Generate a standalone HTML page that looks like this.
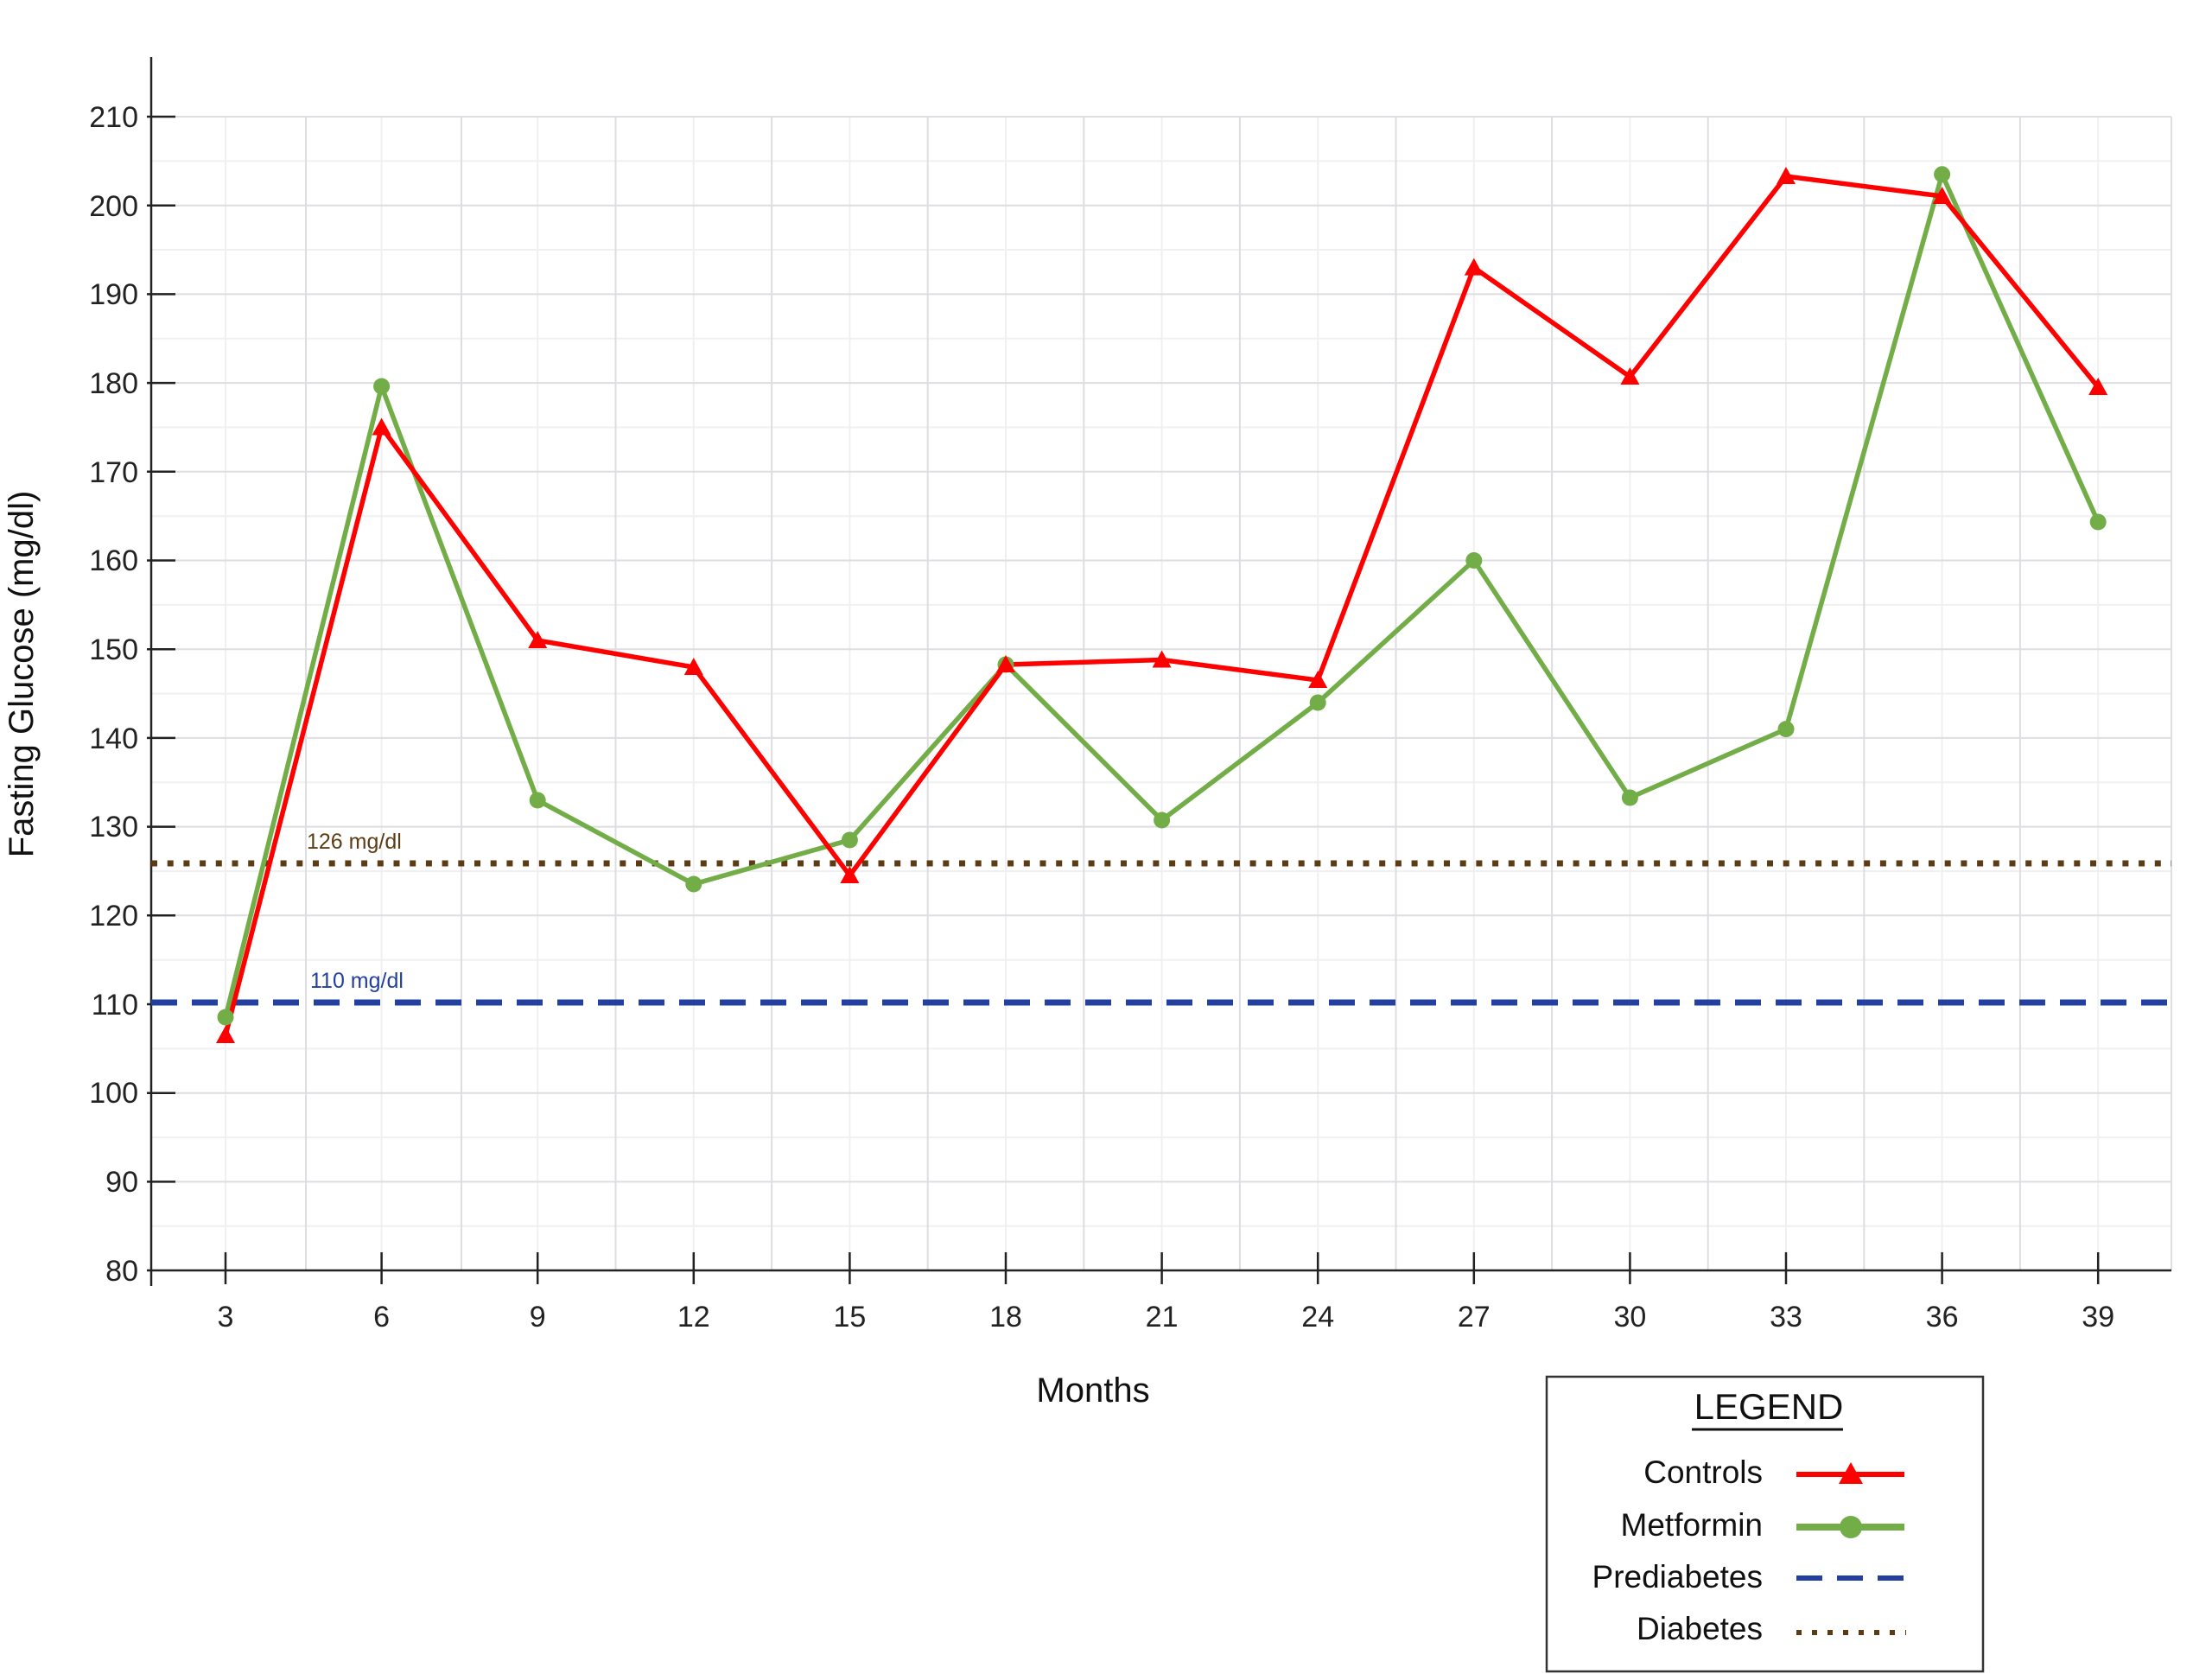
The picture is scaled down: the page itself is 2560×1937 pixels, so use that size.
<!DOCTYPE html>
<html><head><meta charset="utf-8"><style>
html,body{margin:0;padding:0;background:#fff}
svg{display:block}
text{font-family:"Liberation Sans",sans-serif}
</style></head><body>
<svg width="2560" height="1937" viewBox="0 0 2560 1937" xmlns="http://www.w3.org/2000/svg">
<rect width="2560" height="1937" fill="#fff"/>
<g stroke="#f0f0f2" stroke-width="2">
<line x1="175" y1="186.4" x2="2513" y2="186.4"/><line x1="175" y1="289" x2="2513" y2="289"/>
<line x1="175" y1="391.8" x2="2513" y2="391.8"/><line x1="175" y1="494.5" x2="2513" y2="494.5"/>
<line x1="175" y1="597.2" x2="2513" y2="597.2"/><line x1="175" y1="699.9" x2="2513" y2="699.9"/>
<line x1="175" y1="802.6" x2="2513" y2="802.6"/><line x1="175" y1="905.3" x2="2513" y2="905.3"/>
<line x1="175" y1="1008" x2="2513" y2="1008"/><line x1="175" y1="1110.7" x2="2513" y2="1110.7"/>
<line x1="175" y1="1213.4" x2="2513" y2="1213.4"/><line x1="175" y1="1316.1" x2="2513" y2="1316.1"/>
<line x1="175" y1="1418.8" x2="2513" y2="1418.8"/>
<line x1="261" y1="135" x2="261" y2="1470"/><line x1="441.6" y1="135" x2="441.6" y2="1470"/>
<line x1="622.2" y1="135" x2="622.2" y2="1470"/><line x1="802.8" y1="135" x2="802.8" y2="1470"/>
<line x1="983.4" y1="135" x2="983.4" y2="1470"/><line x1="1164" y1="135" x2="1164" y2="1470"/>
<line x1="1344.6" y1="135" x2="1344.6" y2="1470"/><line x1="1525.2" y1="135" x2="1525.2" y2="1470"/>
<line x1="1705.8" y1="135" x2="1705.8" y2="1470"/><line x1="1886.4" y1="135" x2="1886.4" y2="1470"/>
<line x1="2067" y1="135" x2="2067" y2="1470"/><line x1="2247.6" y1="135" x2="2247.6" y2="1470"/>
<line x1="2428.2" y1="135" x2="2428.2" y2="1470"/>
</g>
<g stroke="#dedee2" stroke-width="2">
<line x1="175" y1="135" x2="2513" y2="135"/><line x1="175" y1="237.7" x2="2513" y2="237.7"/>
<line x1="175" y1="340.4" x2="2513" y2="340.4"/><line x1="175" y1="443.1" x2="2513" y2="443.1"/>
<line x1="175" y1="545.8" x2="2513" y2="545.8"/><line x1="175" y1="648.5" x2="2513" y2="648.5"/>
<line x1="175" y1="751.2" x2="2513" y2="751.2"/><line x1="175" y1="853.9" x2="2513" y2="853.9"/>
<line x1="175" y1="956.6" x2="2513" y2="956.6"/><line x1="175" y1="1059.3" x2="2513" y2="1059.3"/>
<line x1="175" y1="1264.7" x2="2513" y2="1264.7"/><line x1="175" y1="1367.4" x2="2513" y2="1367.4"/>
<line x1="354" y1="135" x2="354" y2="1470"/><line x1="534" y1="135" x2="534" y2="1470"/>
<line x1="712.5" y1="135" x2="712.5" y2="1470"/><line x1="893.1" y1="135" x2="893.1" y2="1470"/>
<line x1="1073.7" y1="135" x2="1073.7" y2="1470"/><line x1="1254.3" y1="135" x2="1254.3" y2="1470"/>
<line x1="1434.9" y1="135" x2="1434.9" y2="1470"/><line x1="1615.5" y1="135" x2="1615.5" y2="1470"/>
<line x1="1796.1" y1="135" x2="1796.1" y2="1470"/><line x1="1976.7" y1="135" x2="1976.7" y2="1470"/>
<line x1="2157.3" y1="135" x2="2157.3" y2="1470"/><line x1="2337.9" y1="135" x2="2337.9" y2="1470"/>
<line x1="2513" y1="135" x2="2513" y2="1470"/>
</g>
<g stroke="#222" stroke-width="2.5">
<line x1="175" y1="66" x2="175" y2="1488"/>
<line x1="170" y1="1470" x2="2513" y2="1470"/>
<line x1="170" y1="135" x2="203" y2="135"/><line x1="170" y1="237.7" x2="203" y2="237.7"/>
<line x1="170" y1="340.4" x2="203" y2="340.4"/><line x1="170" y1="443.1" x2="203" y2="443.1"/>
<line x1="170" y1="545.8" x2="203" y2="545.8"/><line x1="170" y1="648.5" x2="203" y2="648.5"/>
<line x1="170" y1="751.2" x2="203" y2="751.2"/><line x1="170" y1="853.9" x2="203" y2="853.9"/>
<line x1="170" y1="956.6" x2="203" y2="956.6"/><line x1="170" y1="1059.3" x2="203" y2="1059.3"/>
<line x1="170" y1="1162" x2="203" y2="1162"/><line x1="170" y1="1264.7" x2="203" y2="1264.7"/>
<line x1="170" y1="1367.4" x2="203" y2="1367.4"/>
<line x1="261" y1="1449" x2="261" y2="1486"/><line x1="441.6" y1="1449" x2="441.6" y2="1486"/>
<line x1="622.2" y1="1449" x2="622.2" y2="1486"/><line x1="802.8" y1="1449" x2="802.8" y2="1486"/>
<line x1="983.4" y1="1449" x2="983.4" y2="1486"/><line x1="1164" y1="1449" x2="1164" y2="1486"/>
<line x1="1344.6" y1="1449" x2="1344.6" y2="1486"/><line x1="1525.2" y1="1449" x2="1525.2" y2="1486"/>
<line x1="1705.8" y1="1449" x2="1705.8" y2="1486"/><line x1="1886.4" y1="1449" x2="1886.4" y2="1486"/>
<line x1="2067" y1="1449" x2="2067" y2="1486"/><line x1="2247.6" y1="1449" x2="2247.6" y2="1486"/>
<line x1="2428.2" y1="1449" x2="2428.2" y2="1486"/>
</g>
<g font-size="34" fill="#222" text-anchor="end">
<text x="160" y="147">210</text><text x="160" y="250">200</text><text x="160" y="352">190</text>
<text x="160" y="455">180</text><text x="160" y="558">170</text><text x="160" y="660">160</text>
<text x="160" y="763">150</text><text x="160" y="866">140</text><text x="160" y="968">130</text>
<text x="160" y="1071">120</text><text x="160" y="1174">110</text><text x="160" y="1276">100</text>
<text x="160" y="1379">90</text><text x="160" y="1482">80</text>
</g>
<g font-size="34" fill="#222" text-anchor="middle">
<text x="261" y="1535">3</text><text x="441.6" y="1535">6</text><text x="622.2" y="1535">9</text>
<text x="802.8" y="1535">12</text><text x="983.4" y="1535">15</text><text x="1164" y="1535">18</text>
<text x="1344.6" y="1535">21</text><text x="1525.2" y="1535">24</text><text x="1705.8" y="1535">27</text>
<text x="1886.4" y="1535">30</text><text x="2067" y="1535">33</text><text x="2247.6" y="1535">36</text>
<text x="2428.2" y="1535">39</text>
</g>
<text x="1265" y="1622" font-size="40" fill="#111" text-anchor="middle">Months</text>
<text transform="translate(38,780) rotate(-90)" font-size="40" fill="#111" text-anchor="middle">Fasting Glucose (mg/dl)</text>
<line x1="175" y1="999" x2="2513" y2="999" stroke="#5c3c15" stroke-width="7" stroke-dasharray="7 11.7"/>
<line x1="175" y1="1160" x2="2513" y2="1160" stroke="#2340a0" stroke-width="7" stroke-dasharray="30 17"/>
<text x="355" y="982" font-size="25" fill="#5c3c15">126 mg/dl</text>
<text x="359" y="1143" font-size="25" fill="#2340a0">110 mg/dl</text>
<polyline fill="none" stroke="#72ad47" stroke-width="5.5" stroke-linejoin="round" points="261,1177 441.6,447 622.2,926 802.8,1023 983.4,972 1164,769 1344.6,949 1525.2,813 1705.8,648.5 1886.4,923 2067,843.6 2247.6,201.8 2428.2,604"/>
<polyline fill="none" stroke="#ff0000" stroke-width="5.5" stroke-linejoin="round" points="261,1198 441.6,494.5 622.2,741 802.8,772 983.4,1013 1164,769 1344.6,763.5 1525.2,787 1705.8,309.6 1886.4,436 2067,204 2247.6,227 2428.2,448"/>
<g fill="#72ad47">
<circle cx="261" cy="1177" r="9.5"/><circle cx="441.6" cy="447" r="9.5"/><circle cx="622.2" cy="926" r="9.5"/>
<circle cx="802.8" cy="1023" r="9.5"/><circle cx="983.4" cy="972" r="9.5"/><circle cx="1164" cy="769" r="9.5"/>
<circle cx="1344.6" cy="949" r="9.5"/><circle cx="1525.2" cy="813" r="9.5"/><circle cx="1705.8" cy="648.5" r="9.5"/>
<circle cx="1886.4" cy="923" r="9.5"/><circle cx="2067" cy="843.6" r="9.5"/><circle cx="2247.6" cy="201.8" r="9.5"/>
<circle cx="2428.2" cy="604" r="9.5"/>
</g>
<g fill="#ff0000">
<path d="M261,1187l-11,20h22z"/><path d="M441.6,483.5l-11,20h22z"/><path d="M622.2,730l-11,20h22z"/>
<path d="M802.8,761l-11,20h22z"/><path d="M983.4,1002l-11,20h22z"/><path d="M1164,758l-11,20h22z"/>
<path d="M1344.6,752.5l-11,20h22z"/><path d="M1525.2,776l-11,20h22z"/><path d="M1705.8,298.6l-11,20h22z"/>
<path d="M1886.4,425l-11,20h22z"/><path d="M2067,193l-11,20h22z"/><path d="M2247.6,216l-11,20h22z"/>
<path d="M2428.2,437l-11,20h22z"/>
</g>
<rect x="1790" y="1593" width="505" height="341" fill="#fff" stroke="#333" stroke-width="2.5"/>
<text x="2047" y="1642" font-size="42" fill="#111" text-anchor="middle">LEGEND</text>
<line x1="1958" y1="1654" x2="2133" y2="1654" stroke="#111" stroke-width="3"/>
<g font-size="37" fill="#111" text-anchor="end">
<text x="2040" y="1716">Controls</text><text x="2040" y="1777">Metformin</text>
<text x="2040" y="1837">Prediabetes</text><text x="2040" y="1897">Diabetes</text>
</g>
<line x1="2079" y1="1706" x2="2204" y2="1706" stroke="#ff0000" stroke-width="6"/>
<path d="M2142,1692l-14,25h28z" fill="#ff0000"/>
<line x1="2079" y1="1767" x2="2204" y2="1767" stroke="#72ad47" stroke-width="8"/>
<circle cx="2142" cy="1767" r="13" fill="#72ad47"/>
<line x1="2079" y1="1826" x2="2204" y2="1826" stroke="#2340a0" stroke-width="6" stroke-dasharray="30 17"/>
<line x1="2079" y1="1889" x2="2206" y2="1889" stroke="#5c3c15" stroke-width="6" stroke-dasharray="6 12"/>
</svg>
</body></html>
